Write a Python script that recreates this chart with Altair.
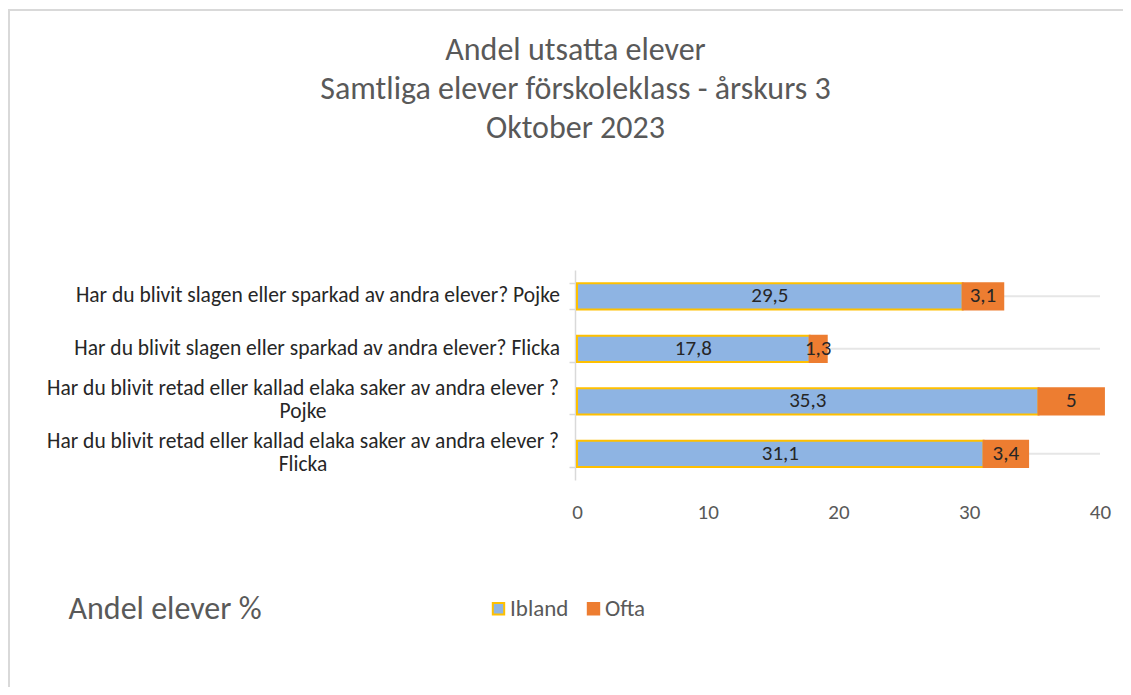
import altair as alt
import pandas as pd

categories = [
    "Har du blivit slagen eller sparkad av andra elever? Pojke",
    "Har du blivit slagen eller sparkad av andra elever? Flicka",
    "Har du blivit retad eller kallad elaka saker av andra elever ? Pojke",
    "Har du blivit retad eller kallad elaka saker av andra elever ? Flicka",
]
label_lines = [
    ["Har du blivit slagen eller sparkad av andra elever? Pojke"],
    ["Har du blivit slagen eller sparkad av andra elever? Flicka"],
    ["Har du blivit retad eller kallad elaka saker av andra elever ?", "Pojke"],
    ["Har du blivit retad eller kallad elaka saker av andra elever ?", "Flicka"],
]
series = ["Ibland", "Ofta"]
ibland = [29.5, 17.8, 35.3, 31.1]
ofta = [3.1, 1.3, 5.0, 3.4]
x_ticks = [0, 10, 20, 30, 40]

title_lines = ["Andel utsatta elever", "Samtliga elever förskoleklass - årskurs 3", "Oktober 2023"]

rows = []
for i, c in enumerate(categories):
    rows.append({"cat": c, "series": "Ibland", "ord": 0, "value": ibland[i]})
    rows.append({"cat": c, "series": "Ofta", "ord": 1, "value": ofta[i]})
df = pd.DataFrame(rows)

lab_df = pd.DataFrame({
    "cat": categories,
    "lines": label_lines,
    "wrapped": [len(l) > 1 for l in label_lines],
})

FONT = "Carlito, Lato, sans-serif"
GREY = "#595959"
DARK = "#262626"
BLUE = "#8EB4E3"
YELLOW = "#FFC000"
ORANGE = "#ED7D31"

y_enc = alt.Y("cat:N", sort=categories, scale=alt.Scale(paddingInner=0.5, paddingOuter=0.25),
              axis=alt.Axis(labels=False, title=None, domainColor="#D9D9D9", tickColor="#D9D9D9",
                            tickBand="extent", tickSize=6, domainWidth=1.5, tickWidth=1.5,
                            offset=2))
x_scale = alt.Scale(domain=[0, 40])

legend = alt.Legend(title=None, orient="none", legendX=-90, legendY=327,
                    direction="horizontal", symbolType="square", symbolSize=130,
                    symbolStrokeWidth=2, labelFontSize=23, labelColor=GREY,
                    labelFont=FONT, columnPadding=13, labelOffset=0)

base = alt.Chart(df)

grid = alt.Chart(lab_df).mark_rule(color="#E6E6E6", strokeWidth=2).encode(
    y=alt.Y("cat:N", sort=categories),
    x=alt.datum(0, scale=x_scale),
    x2=alt.datum(40),
)

bars = base.transform_stack(
    stack="value", groupby=["cat"], as_=["x0", "x1"], sort=[alt.SortField("ord")]
).mark_bar(strokeWidth=2).encode(
    y=y_enc,
    x=alt.X("x0:Q", scale=x_scale,
            axis=alt.Axis(values=x_ticks, grid=False, domain=False, ticks=False, labelFlush=False,
                          labelFontSize=21, labelColor=GREY, labelPadding=21, labelFont=FONT,
                          title="Andel elever %", titleFontSize=32, titleColor=GREY,
                          titleFont=FONT, titleFontWeight="normal",
                          titleX=-509, titleY=128, titleAlign="left", titleAnchor="start",
                          titleBaseline="middle", titleAngle=0)),
    x2="x1:Q",
    color=alt.Color("series:N", scale=alt.Scale(domain=series, range=[BLUE, ORANGE]), legend=legend),
    stroke=alt.Stroke("series:N", scale=alt.Scale(domain=series, range=[YELLOW, ORANGE]), legend=legend),
    order=alt.Order("ord:Q"),
)

texts = base.transform_stack(
    stack="value", groupby=["cat"], as_=["x0", "x1"], sort=[alt.SortField("ord")]
).transform_calculate(
    mid="(datum.x0 + datum.x1) / 2",
    txt="replace(toString(datum.value), '.', ',')",
).mark_text(fontSize=21, color=DARK, font=FONT, baseline="middle", align="center").encode(
    y=alt.Y("cat:N", sort=categories),
    x=alt.X("mid:Q", scale=x_scale),
    text="txt:N",
)

lab_single = alt.Chart(lab_df).transform_filter("!datum.wrapped").mark_text(
    align="right", baseline="middle", fontSize=21.5, color=DARK, font=FONT
).encode(y=alt.Y("cat:N", sort=categories), x=alt.value(-17), text="lines")

lab_wrapped = alt.Chart(lab_df).transform_filter("datum.wrapped").mark_text(
    align="center", baseline="middle", fontSize=21.5, color=DARK, font=FONT, lineHeight=23, dy=-12
).encode(y=alt.Y("cat:N", sort=categories), x=alt.value(-274), text="lines")

frame_top = alt.Chart(lab_df).mark_rule(color="#D9D9D9", strokeWidth=2).encode(
    x=alt.value(-569), x2=alt.value(600), y=alt.value(-260))
frame_left = alt.Chart(lab_df).mark_rule(color="#D9D9D9", strokeWidth=2).encode(
    x=alt.value(-568), y=alt.value(-260), y2=alt.value(440))

chart = alt.layer(frame_top, frame_left, grid, bars, texts, lab_single, lab_wrapped).properties(
    width=523, height=210,
    autosize=alt.AutoSizeParams(type="none"),
    padding={"left": 569, "top": 262, "right": 23, "bottom": 207},
    title=alt.TitleParams(text=title_lines, anchor="middle", frame="group", dx=-263,
                          offset=-136, fontSize=32, font=FONT, color=GREY,
                          fontWeight="normal", lineHeight=39),
).configure_view(stroke=None)

chart.save("out.html", embed_options={"renderer": "svg", "actions": False})
